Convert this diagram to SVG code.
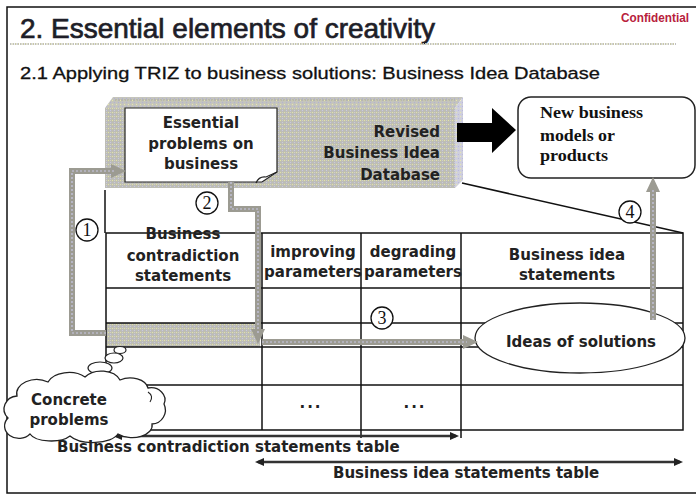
<svg xmlns="http://www.w3.org/2000/svg" width="696" height="495" viewBox="0 0 696 495">
<defs>
<pattern id="dith" width="4" height="4" patternUnits="userSpaceOnUse">
<rect width="4" height="4" fill="#bdbdb5"/>
<rect x="0" y="0" width="1" height="1" fill="#e4e4a0"/>
<rect x="2" y="2" width="1" height="1" fill="#c6c6e8"/>
<rect x="2" y="0" width="1" height="1" fill="#d2d2c4"/>
</pattern>
<pattern id="dithTop" width="4" height="4" patternUnits="userSpaceOnUse">
<rect width="4" height="4" fill="#c4c4bc"/>
<rect x="0" y="0" width="1" height="1" fill="#e8e8a8"/>
<rect x="2" y="2" width="1" height="1" fill="#b0b0d8"/>
</pattern>
<pattern id="dithSide" width="4" height="4" patternUnits="userSpaceOnUse">
<rect width="4" height="4" fill="#cfcfdc"/>
<rect x="0" y="0" width="1" height="1" fill="#e8e8b0"/>
<rect x="2" y="2" width="1" height="1" fill="#b8b8e0"/>
</pattern>
<marker id="gHead" markerWidth="16" markerHeight="16" refX="4" refY="8" orient="auto" markerUnits="userSpaceOnUse">
<path d="M0,1 L15,8 L0,15 z" fill="#9c9b92"/>
</marker>
<marker id="kHead" markerWidth="10" markerHeight="10" refX="6" refY="5" orient="auto-start-reverse" markerUnits="userSpaceOnUse">
<path d="M0,1 L9,5 L0,9 z" fill="#222"/>
</marker>
</defs>
<style>
.t{font-family:"DejaVu Sans",Verdana,sans-serif;font-weight:bold;font-size:15px;fill:#222}
.c{text-anchor:middle}
.ln{stroke:#111;stroke-width:1.5;fill:none}
.garrow{fill:none;stroke:#9c9b92;stroke-width:6;marker-end:url(#gHead)}
.tex{fill:none;stroke:#c8c8e4;stroke-width:1.2;stroke-dasharray:2 2}
.circ{fill:#fff;stroke:#111;stroke-width:1.3}
.num{font-family:"Liberation Serif","Times New Roman",serif;font-size:18px;fill:#111;text-anchor:middle}
.karrow{fill:none;stroke:#333;stroke-width:2.5;marker-start:url(#kHead);marker-end:url(#kHead)}
</style>
<rect width="696" height="495" fill="#fff"/>
<rect x="7" y="7" width="700" height="486" fill="none" stroke="#111" stroke-width="1.5"/>

<g id="header">
<text x="20" y="38" font-family="Liberation Sans, Arial, sans-serif" font-size="28" fill="#1e1e28" stroke="#1e1e28" stroke-width="0.7" textLength="415" lengthAdjust="spacingAndGlyphs">2. Essential elements of creativity</text>
<line x1="10" y1="44" x2="676" y2="44" stroke="#c8c8a8" stroke-width="2" stroke-dasharray="1.5 1"/>
<line x1="10" y1="44" x2="676" y2="44" stroke="#b8b8dc" stroke-width="1" stroke-dasharray="1 2.5"/>
<text x="621" y="22" font-family="Liberation Sans, Arial, sans-serif" font-size="13" font-weight="bold" fill="#b8203c" textLength="68" lengthAdjust="spacingAndGlyphs">Confidential</text>
<text x="20" y="79" font-family="Liberation Sans, Arial, sans-serif" font-size="17" fill="#111" stroke="#111" stroke-width="0.3" textLength="580" lengthAdjust="spacingAndGlyphs">2.1 Applying TRIZ to business solutions: Business Idea Database</text>
</g>

<g id="database">
<polygon points="105,108 113,97 463,97 455,108" fill="url(#dithTop)"/>
<line x1="115" y1="100" x2="455" y2="100" stroke="#a8a8a0" stroke-width="1" stroke-dasharray="2 1"/>
<polygon points="455,108 463,97 463,180 455,188" fill="url(#dithSide)"/>
<rect x="105" y="108" width="350" height="80" fill="url(#dith)"/>
<text class="t" x="440" y="137" text-anchor="end">Revised</text>
<text class="t" x="440" y="158" text-anchor="end">Business Idea</text>
<text class="t" x="440" y="180" text-anchor="end">Database</text>
</g>

<g id="essential-problems">
<path d="M125,108 H277 V172 L262,182 H125 Z" fill="#fff" stroke="#222" stroke-width="1.2"/>
<path d="M256,183 q3,-7 10,-6 l11,-5" fill="none" stroke="#222" stroke-width="1.2"/>
<text class="t c" x="201" y="128">Essential</text>
<text class="t c" x="201" y="149">problems on</text>
<text class="t c" x="201" y="169">business</text>
</g>

<g id="new-business">
<rect x="518" y="97" width="177" height="81" rx="13" fill="#fff" stroke="#222" stroke-width="1.5"/>
<text x="540" y="118" font-family="Liberation Serif, 'Times New Roman', serif" font-weight="bold" font-size="17" fill="#111" textLength="103" lengthAdjust="spacingAndGlyphs">New business</text>
<text x="540" y="141" font-family="Liberation Serif, 'Times New Roman', serif" font-weight="bold" font-size="17" fill="#111" textLength="75" lengthAdjust="spacingAndGlyphs">models or</text>
<text x="540" y="161" font-family="Liberation Serif, 'Times New Roman', serif" font-weight="bold" font-size="17" fill="#111" textLength="68" lengthAdjust="spacingAndGlyphs">products</text>
</g>

<g id="table">
<rect x="106" y="323" width="154" height="24" fill="url(#dith)"/>
<line class="ln" x1="105" y1="190" x2="105" y2="233"/>
<line class="ln" x1="462" y1="183" x2="683" y2="233"/>
<rect class="ln" x="106" y="233" width="577" height="197"/>
<line class="ln" x1="106" y1="288" x2="683" y2="288"/>
<line class="ln" x1="106" y1="323" x2="683" y2="323"/>
<line class="ln" x1="106" y1="347" x2="683" y2="347"/>
<line class="ln" x1="106" y1="385" x2="683" y2="385"/>
<line class="ln" x1="262" y1="233" x2="262" y2="430"/>
<line class="ln" x1="361" y1="233" x2="361" y2="438"/>
<line class="ln" x1="461" y1="233" x2="461" y2="438"/>
<text class="t c" x="183" y="239">Business</text>
<text class="t c" x="183" y="261">contradiction</text>
<text class="t c" x="183" y="281">statements</text>
<text class="t c" x="313" y="257">improving</text>
<text class="t c" x="313" y="277">parameters</text>
<text class="t c" x="413" y="257">degrading</text>
<text class="t c" x="413" y="277">parameters</text>
<text class="t c" x="567" y="260">Business idea</text>
<text class="t c" x="567" y="280">statements</text>
<text class="t c" x="311" y="408" letter-spacing="2">...</text>
<text class="t c" x="415" y="408" letter-spacing="2">...</text>
</g>

<g id="ideas-of-solutions">
<ellipse cx="580" cy="338" rx="105" ry="35" fill="#fff" stroke="#222" stroke-width="1.3"/>
<text class="t c" x="581" y="347">Ideas of solutions</text>
</g>

<g id="connectors">
<path class="garrow" d="M106,333 H72 V171 H115"/>
<path class="tex" d="M106,333 H72 V171 H115"/>
<path class="garrow" d="M231,182 V209 H258 V333"/>
<path class="tex" d="M231,182 V209 H258 V333"/>
<path class="garrow" d="M262,342 H467"/>
<path class="tex" d="M262,342 H467"/>
<path class="garrow" d="M653,320 V188"/>
<path class="tex" d="M653,320 V188"/>
<polygon points="457,123 492,123 492,108 516,130 492,153 492,142 457,142" fill="#000"/>
<path class="karrow" d="M116,436 H456"/>
<path class="karrow" d="M258,462 H680"/>
</g>

<g id="step-numbers">
<circle class="circ" cx="87" cy="230" r="11"/>
<text class="num" x="87" y="236">1</text>
<circle class="circ" cx="207" cy="203" r="11"/>
<text class="num" x="207" y="209">2</text>
<circle class="circ" cx="382" cy="318" r="11"/>
<text class="num" x="382" y="324">3</text>
<circle class="circ" cx="630" cy="212" r="11"/>
<text class="num" x="630" y="218">4</text>
</g>

<g id="concrete-problems">
<ellipse cx="120" cy="350" rx="6" ry="3.5" fill="#fff" stroke="#222" stroke-width="1.2"/>
<ellipse cx="114" cy="358" rx="9" ry="5" fill="#fff" stroke="#222" stroke-width="1.2"/>
<ellipse cx="100" cy="368" rx="12" ry="6" fill="#fff" stroke="#222" stroke-width="1.2"/>
<path d="M30,434 A14,12 0 0 1 8,418 A14,13 0 0 1 17,396 A20,14 0 0 1 48,382 A22,14 0 0 1 85,377 A20,14 0 0 1 120,380 A18,12 0 0 1 148,388 A14,12 0 0 1 164,404 A14,14 0 0 1 152,424 A20,12 0 0 1 118,434 A26,12 0 0 1 70,436 A22,10 0 0 1 30,434 Z" fill="#fff" stroke="#222" stroke-width="1.3"/>
<path d="M148,392 q6,4 2,10" fill="none" stroke="#222" stroke-width="1.1"/>
<text class="t c" x="69" y="405">Concrete</text>
<text class="t c" x="69" y="425">problems</text>
</g>

<g id="table-labels">
<text class="t" x="57" y="452">Business contradiction statements table</text>
<text class="t" x="333" y="478">Business idea statements table</text>
</g>
</svg>
